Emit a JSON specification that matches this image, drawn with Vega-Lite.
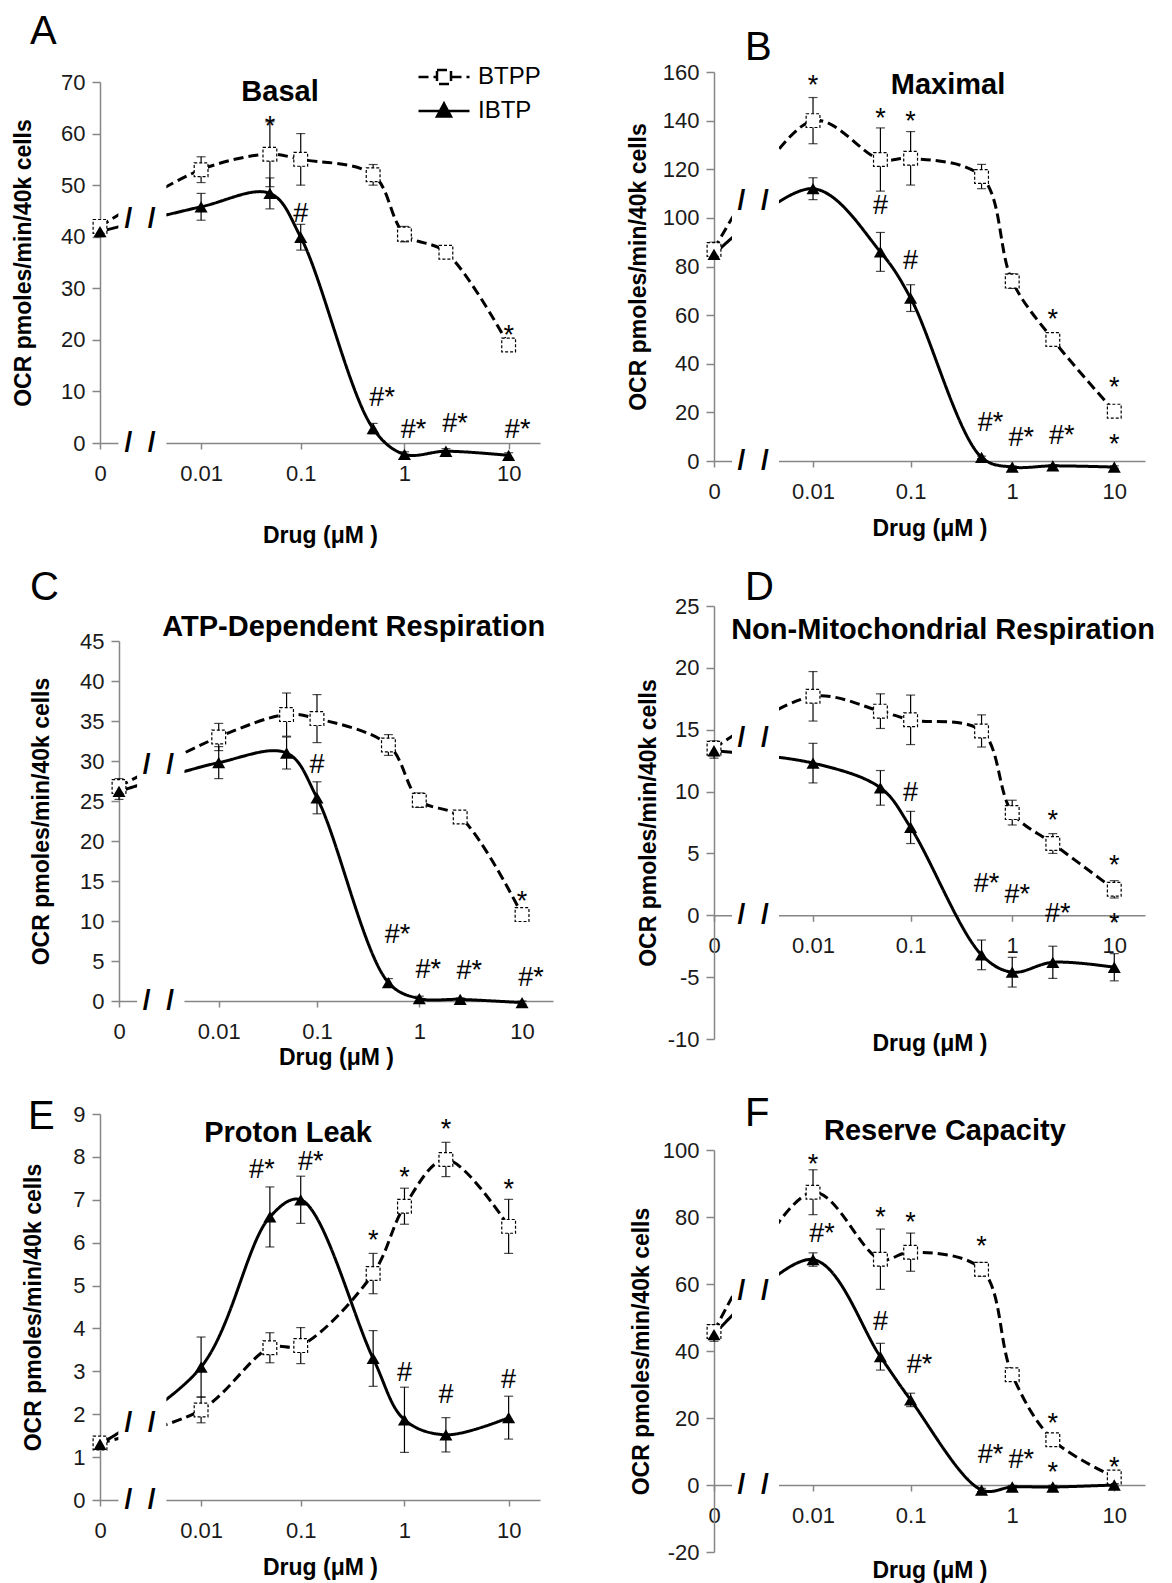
{
"$schema": "https://vega.github.io/schema/vega-lite/v6.json",
"background": "white",
"padding": {"left": 12, "top": 12, "right": 5, "bottom": 5},
"config": {
  "font": "Liberation Sans",
  "view": {"stroke": null},
  "axis": {"domainColor": "#868686", "tickColor": "#868686", "domainWidth": 1.5, "tickWidth": 1.5, "labelFontSize": 22, "labelColor": "#1a1a1a", "labelFont": "Liberation Sans", "titleFont": "Liberation Sans", "titleFontSize": 23, "titleFontWeight": "bold", "titleColor": "#000", "grid": false, "labelOverlap": false, "tickCount": 30},
  "axisX": {"tickSize": 6, "labelPadding": 14, "labelFlush": false},
  "axisY": {"tickSize": 8, "labelPadding": 7, "labelExpr": "'' + datum.value"},
  "title": {"font": "Liberation Sans", "fontSize": 40, "fontWeight": "normal", "anchor": "start", "frame": "group", "color": "#000", "baseline": "bottom"},
  "text": {"font": "Liberation Sans", "color": "black"}
},
"datasets": {
  "pts": [
    {"panel":"A","series":"BTPP","drug":0,"ocr":42,"sem":1},
    {"panel":"A","series":"BTPP","drug":0.01,"ocr":53,"sem":2.5},
    {"panel":"A","series":"BTPP","drug":0.05,"ocr":56,"sem":6.3},
    {"panel":"A","series":"BTPP","drug":0.1,"ocr":55,"sem":5},
    {"panel":"A","series":"BTPP","drug":0.5,"ocr":52,"sem":2},
    {"panel":"A","series":"BTPP","drug":1,"ocr":40.5,"sem":1.5},
    {"panel":"A","series":"BTPP","drug":2.5,"ocr":37,"sem":0.5},
    {"panel":"A","series":"BTPP","drug":10,"ocr":19,"sem":0.5},
    {"panel":"A","series":"IBTP","drug":0,"ocr":41,"sem":1},
    {"panel":"A","series":"IBTP","drug":0.01,"ocr":45.8,"sem":2.6},
    {"panel":"A","series":"IBTP","drug":0.05,"ocr":48.4,"sem":3},
    {"panel":"A","series":"IBTP","drug":0.1,"ocr":39.9,"sem":2.5},
    {"panel":"A","series":"IBTP","drug":0.5,"ocr":2.8,"sem":1},
    {"panel":"A","series":"IBTP","drug":1,"ocr":-2.2,"sem":0.5},
    {"panel":"A","series":"IBTP","drug":2.5,"ocr":-1.6,"sem":0.5},
    {"panel":"A","series":"IBTP","drug":10,"ocr":-2.4,"sem":0.5},
    {"panel":"B","series":"BTPP","drug":0,"ocr":87,"sem":3},
    {"panel":"B","series":"BTPP","drug":0.01,"ocr":140,"sem":9.5},
    {"panel":"B","series":"BTPP","drug":0.05,"ocr":124,"sem":13},
    {"panel":"B","series":"BTPP","drug":0.1,"ocr":124.5,"sem":11},
    {"panel":"B","series":"BTPP","drug":0.5,"ocr":117,"sem":5},
    {"panel":"B","series":"BTPP","drug":1,"ocr":74,"sem":3},
    {"panel":"B","series":"BTPP","drug":2.5,"ocr":50,"sem":0.5},
    {"panel":"B","series":"BTPP","drug":10,"ocr":20.5,"sem":0.5},
    {"panel":"B","series":"IBTP","drug":0,"ocr":85,"sem":2},
    {"panel":"B","series":"IBTP","drug":0.01,"ocr":112,"sem":4.5},
    {"panel":"B","series":"IBTP","drug":0.05,"ocr":86,"sem":8},
    {"panel":"B","series":"IBTP","drug":0.1,"ocr":67,"sem":5.5},
    {"panel":"B","series":"IBTP","drug":0.5,"ocr":1.5,"sem":0.5},
    {"panel":"B","series":"IBTP","drug":1,"ocr":-2.5,"sem":0.5},
    {"panel":"B","series":"IBTP","drug":2.5,"ocr":-2,"sem":0.5},
    {"panel":"B","series":"IBTP","drug":10,"ocr":-2.5,"sem":0.5},
    {"panel":"C","series":"BTPP","drug":0,"ocr":26.8,"sem":1},
    {"panel":"C","series":"BTPP","drug":0.01,"ocr":33,"sem":1.7},
    {"panel":"C","series":"BTPP","drug":0.05,"ocr":35.8,"sem":2.7},
    {"panel":"C","series":"BTPP","drug":0.1,"ocr":35.3,"sem":3},
    {"panel":"C","series":"BTPP","drug":0.5,"ocr":32,"sem":1.3},
    {"panel":"C","series":"BTPP","drug":1,"ocr":25.1,"sem":0.9},
    {"panel":"C","series":"BTPP","drug":2.5,"ocr":23,"sem":0.3},
    {"panel":"C","series":"BTPP","drug":10,"ocr":10.8,"sem":0.3},
    {"panel":"C","series":"IBTP","drug":0,"ocr":26.2,"sem":1},
    {"panel":"C","series":"IBTP","drug":0.01,"ocr":29.8,"sem":2},
    {"panel":"C","series":"IBTP","drug":0.05,"ocr":31,"sem":2},
    {"panel":"C","series":"IBTP","drug":0.1,"ocr":25.4,"sem":2},
    {"panel":"C","series":"IBTP","drug":0.5,"ocr":2.3,"sem":0.5},
    {"panel":"C","series":"IBTP","drug":1,"ocr":0.3,"sem":0.3},
    {"panel":"C","series":"IBTP","drug":2.5,"ocr":0.2,"sem":0.2},
    {"panel":"C","series":"IBTP","drug":10,"ocr":-0.2,"sem":0.2},
    {"panel":"D","series":"BTPP","drug":0,"ocr":13.5,"sem":0.6},
    {"panel":"D","series":"BTPP","drug":0.01,"ocr":17.7,"sem":2},
    {"panel":"D","series":"BTPP","drug":0.05,"ocr":16.5,"sem":1.4},
    {"panel":"D","series":"BTPP","drug":0.1,"ocr":15.8,"sem":2},
    {"panel":"D","series":"BTPP","drug":0.5,"ocr":14.9,"sem":1.3},
    {"panel":"D","series":"BTPP","drug":1,"ocr":8.3,"sem":1},
    {"panel":"D","series":"BTPP","drug":2.5,"ocr":5.8,"sem":0.8},
    {"panel":"D","series":"BTPP","drug":10,"ocr":2.1,"sem":0.7},
    {"panel":"D","series":"IBTP","drug":0,"ocr":13.3,"sem":0.6},
    {"panel":"D","series":"IBTP","drug":0.01,"ocr":12.3,"sem":1.6},
    {"panel":"D","series":"IBTP","drug":0.05,"ocr":10.3,"sem":1.4},
    {"panel":"D","series":"IBTP","drug":0.1,"ocr":7.1,"sem":1.3},
    {"panel":"D","series":"IBTP","drug":0.5,"ocr":-3.2,"sem":1.2},
    {"panel":"D","series":"IBTP","drug":1,"ocr":-4.6,"sem":1.2},
    {"panel":"D","series":"IBTP","drug":2.5,"ocr":-3.8,"sem":1.3},
    {"panel":"D","series":"IBTP","drug":10,"ocr":-4.2,"sem":1.1},
    {"panel":"E","series":"BTPP","drug":0,"ocr":1.33,"sem":0.1},
    {"panel":"E","series":"BTPP","drug":0.01,"ocr":2.1,"sem":0.3},
    {"panel":"E","series":"BTPP","drug":0.05,"ocr":3.55,"sem":0.35},
    {"panel":"E","series":"BTPP","drug":0.1,"ocr":3.6,"sem":0.42},
    {"panel":"E","series":"BTPP","drug":0.5,"ocr":5.28,"sem":0.47},
    {"panel":"E","series":"BTPP","drug":1,"ocr":6.85,"sem":0.42},
    {"panel":"E","series":"BTPP","drug":2.5,"ocr":7.94,"sem":0.4},
    {"panel":"E","series":"BTPP","drug":10,"ocr":6.38,"sem":0.63},
    {"panel":"E","series":"IBTP","drug":0,"ocr":1.3,"sem":0.1},
    {"panel":"E","series":"IBTP","drug":0.01,"ocr":3.1,"sem":0.7},
    {"panel":"E","series":"IBTP","drug":0.05,"ocr":6.6,"sem":0.7},
    {"panel":"E","series":"IBTP","drug":0.1,"ocr":7.0,"sem":0.55},
    {"panel":"E","series":"IBTP","drug":0.5,"ocr":3.3,"sem":0.65},
    {"panel":"E","series":"IBTP","drug":1,"ocr":1.87,"sem":0.76},
    {"panel":"E","series":"IBTP","drug":2.5,"ocr":1.52,"sem":0.4},
    {"panel":"E","series":"IBTP","drug":10,"ocr":1.92,"sem":0.5},
    {"panel":"F","series":"BTPP","drug":0,"ocr":45.8,"sem":2},
    {"panel":"F","series":"BTPP","drug":0.01,"ocr":87.4,"sem":6.7},
    {"panel":"F","series":"BTPP","drug":0.05,"ocr":67.4,"sem":9},
    {"panel":"F","series":"BTPP","drug":0.1,"ocr":69.5,"sem":5.7},
    {"panel":"F","series":"BTPP","drug":0.5,"ocr":64.4,"sem":2},
    {"panel":"F","series":"BTPP","drug":1,"ocr":32.9,"sem":0.5},
    {"panel":"F","series":"BTPP","drug":2.5,"ocr":13.5,"sem":0.5},
    {"panel":"F","series":"BTPP","drug":10,"ocr":2.4,"sem":0.5},
    {"panel":"F","series":"IBTP","drug":0,"ocr":44.9,"sem":2},
    {"panel":"F","series":"IBTP","drug":0.01,"ocr":67.3,"sem":2},
    {"panel":"F","series":"IBTP","drug":0.05,"ocr":38.3,"sem":4},
    {"panel":"F","series":"IBTP","drug":0.1,"ocr":25.4,"sem":2},
    {"panel":"F","series":"IBTP","drug":0.5,"ocr":-1.5,"sem":0.5},
    {"panel":"F","series":"IBTP","drug":1,"ocr":-0.6,"sem":0.5},
    {"panel":"F","series":"IBTP","drug":2.5,"ocr":-0.6,"sem":0.5},
    {"panel":"F","series":"IBTP","drug":10,"ocr":0,"sem":0.5}
  ],
  "ann": [
    {"panel":"A","drug":0.05,"y":62.5,"label":"*"},
    {"panel":"A","drug":0.1,"y":44.4,"label":"#"},
    {"panel":"A","drug":0.5,"y":8.7,"label":"#*"},
    {"panel":"A","drug":1,"y":2.6,"label":"#*"},
    {"panel":"A","drug":2.5,"y":3.6,"label":"#*"},
    {"panel":"A","drug":10,"y":2.6,"label":"#*"},
    {"panel":"A","drug":10,"y":22,"label":"*"},
    {"panel":"B","drug":0.01,"y":156.6,"label":"*"},
    {"panel":"B","drug":0.05,"y":143,"label":"*"},
    {"panel":"B","drug":0.05,"y":104.8,"label":"#"},
    {"panel":"B","drug":0.1,"y":141.8,"label":"*"},
    {"panel":"B","drug":0.1,"y":82.3,"label":"#"},
    {"panel":"B","drug":0.5,"y":15.7,"label":"#*"},
    {"panel":"B","drug":1,"y":9.3,"label":"#*"},
    {"panel":"B","drug":2.5,"y":60.3,"label":"*"},
    {"panel":"B","drug":2.5,"y":10.2,"label":"#*"},
    {"panel":"B","drug":10,"y":32.3,"label":"*"},
    {"panel":"B","drug":10,"y":8.9,"label":"*"},
    {"panel":"C","drug":0.1,"y":29.5,"label":"#"},
    {"panel":"C","drug":0.5,"y":8.25,"label":"#*"},
    {"panel":"C","drug":1,"y":3.9,"label":"#*"},
    {"panel":"C","drug":2.5,"y":3.75,"label":"#*"},
    {"panel":"C","drug":10,"y":2.9,"label":"#*"},
    {"panel":"C","drug":10,"y":13.1,"label":"*"},
    {"panel":"D","drug":0.1,"y":9.9,"label":"#"},
    {"panel":"D","drug":0.5,"y":2.5,"label":"#*"},
    {"panel":"D","drug":1,"y":1.6,"label":"#*"},
    {"panel":"D","drug":2.5,"y":8.1,"label":"*"},
    {"panel":"D","drug":2.5,"y":0.1,"label":"#*"},
    {"panel":"D","drug":10,"y":4.5,"label":"*"},
    {"panel":"D","drug":10,"y":-0.2,"label":"*"},
    {"panel":"E","drug":0.05,"y":7.69,"label":"#*"},
    {"panel":"E","drug":0.1,"y":7.87,"label":"#*"},
    {"panel":"E","drug":0.5,"y":6.19,"label":"*"},
    {"panel":"E","drug":1,"y":7.64,"label":"*"},
    {"panel":"E","drug":1,"y":2.97,"label":"#"},
    {"panel":"E","drug":2.5,"y":8.76,"label":"*"},
    {"panel":"E","drug":2.5,"y":2.45,"label":"#"},
    {"panel":"E","drug":10,"y":7.36,"label":"*"},
    {"panel":"E","drug":10,"y":2.8,"label":"#"},
    {"panel":"F","drug":0.01,"y":97.3,"label":"*"},
    {"panel":"F","drug":0.01,"y":74.9,"label":"#*"},
    {"panel":"F","drug":0.05,"y":81.4,"label":"*"},
    {"panel":"F","drug":0.05,"y":48.8,"label":"#"},
    {"panel":"F","drug":0.1,"y":79.9,"label":"*"},
    {"panel":"F","drug":0.1,"y":35.9,"label":"#*"},
    {"panel":"F","drug":0.5,"y":72.8,"label":"*"},
    {"panel":"F","drug":0.5,"y":9,"label":"#*"},
    {"panel":"F","drug":1,"y":7.5,"label":"#*"},
    {"panel":"F","drug":2.5,"y":20,"label":"*"},
    {"panel":"F","drug":2.5,"y":5.4,"label":"*"},
    {"panel":"F","drug":10,"y":6.9,"label":"*"}
  ],
  "brk": [
    {"panel":"A","y":43.5},{"panel":"A","y":0},
    {"panel":"B","y":107},{"panel":"B","y":0},
    {"panel":"C","y":29.5},{"panel":"C","y":0},
    {"panel":"D","y":14.3},{"panel":"D","y":0},
    {"panel":"E","y":1.8},{"panel":"E","y":0},
    {"panel":"F","y":58},{"panel":"F","y":0}
  ]
},
"hconcat": [
 {"vconcat": [
  {"width": 1, "height": 1, "data": {"values": [{"s": 0}]}, "mark": {"type": "point", "opacity": 0}, "encoding": {}},
  {"vconcat": [
   {"width": 440, "height": 361,
    "title": {"text": "A", "dx": -70, "offset": 19},
    "layer": [
     {"data": {"name": "pts"}, "transform": [{"filter": "datum.panel === 'A'"}],
      "mark": {"type": "line", "interpolate": "catmull-rom", "color": "black", "strokeWidth": 3},
      "encoding": {
       "x": {"field": "drug", "type": "quantitative", "scale": {"type": "symlog", "constant": 0.0012, "domain": [0, 20], "nice": false}, "axis": {"values": [0, 0.01, 0.1, 1, 10], "format": "~g", "title": "Drug (μM )", "titlePadding": 40}},
       "y": {"field": "ocr", "type": "quantitative", "scale": {"domain": [0, 70], "nice": false, "zero": false}, "axis": {"values": [0, 10, 20, 30, 40, 50, 60, 70], "title": "OCR pmoles/min/40k cells", "titlePadding": 25}},
       "strokeDash": {"field": "series", "type": "nominal", "scale": {"domain": ["BTPP", "IBTP"], "range": [[10, 5], [1, 0]]},
         "legend": {"title": null, "orient": "none", "legendX": 332, "legendY": -7, "labelFontSize": 24, "labelColor": "black", "labelFont": "Liberation Sans", "symbolSize": 400, "symbolStrokeWidth": 2.5, "symbolStrokeColor": "black", "rowPadding": 9, "labelOffset": 22, "padding": 0,
           "encode": {"symbols": {"update": {"shape": {"signal": "datum.value === 'BTPP' ? 'M-2.55,0H-0.75M0.75,0H2.55M-0.7,-0.7H0.7V0.7H-0.7Z' : 'M-2.55,0H2.55M-0.7,0.55L0,-0.75L0.7,0.55Z'"}, "fill": {"signal": "datum.value === 'BTPP' ? 'white' : 'black'"}, "stroke": {"value": "black"}, "strokeWidth": {"value": 2.5}, "opacity": {"value": 1}}}}}}
      }},
     {"data": {"values": [{}]}, "mark": {"type": "rect", "color": "white"},
      "encoding": {"x": {"datum": 0.0006}, "x2": {"datum": 0.004}, "y": {"datum": -0.4}, "y2": {"datum": 70}}},
     {"data": {"name": "brk"}, "transform": [{"filter": "datum.panel === 'A'"}],
      "mark": {"type": "text", "text": "/\u00a0\u00a0/", "fontSize": 28, "fontWeight": "bold", "baseline": "middle"},
      "encoding": {"x": {"datum": 0.0017}, "y": {"field": "y", "type": "quantitative"}}},
     {"data": {"name": "pts"}, "transform": [{"filter": "datum.panel === 'A'"}],
      "mark": {"type": "errorbar", "ticks": {"size": 9}, "thickness": 1.2, "color": "black"},
      "encoding": {"x": {"field": "drug", "type": "quantitative", "title": "Drug (μM )"}, "y": {"field": "ocr", "type": "quantitative", "title": "OCR pmoles/min/40k cells"}, "yError": {"field": "sem"}}},
     {"data": {"name": "pts"}, "transform": [{"filter": "datum.panel === 'A' && datum.series === 'BTPP'"}],
      "mark": {"type": "point", "shape": "square", "filled": true, "fill": "white", "stroke": "black", "strokeWidth": 1.2, "strokeDash": [3, 2], "size": 190, "opacity": 1},
      "encoding": {"x": {"field": "drug", "type": "quantitative"}, "y": {"field": "ocr", "type": "quantitative"}}},
     {"data": {"name": "pts"}, "transform": [{"filter": "datum.panel === 'A' && datum.series === 'IBTP'"}],
      "mark": {"type": "point", "shape": "triangle-up", "filled": true, "color": "black", "size": 170, "opacity": 1},
      "encoding": {"x": {"field": "drug", "type": "quantitative"}, "y": {"field": "ocr", "type": "quantitative"}}},
     {"data": {"name": "ann"}, "transform": [{"filter": "datum.panel === 'A' && datum.label === '*'"}],
      "mark": {"type": "text", "fontSize": 27, "baseline": "middle", "dy": 6},
      "encoding": {"x": {"field": "drug", "type": "quantitative"}, "y": {"field": "y", "type": "quantitative"}, "text": {"field": "label"}}},
     {"data": {"name": "ann"}, "transform": [{"filter": "datum.panel === 'A' && datum.label === '#'"}],
      "mark": {"type": "text", "fontSize": 27, "baseline": "middle"},
      "encoding": {"x": {"field": "drug", "type": "quantitative"}, "y": {"field": "y", "type": "quantitative"}, "text": {"field": "label"}}},
     {"data": {"name": "ann"}, "transform": [{"filter": "datum.panel === 'A' && datum.label === '#*'"}],
      "mark": {"type": "text", "fontSize": 27, "baseline": "middle", "dx": 9},
      "encoding": {"x": {"field": "drug", "type": "quantitative"}, "y": {"field": "y", "type": "quantitative"}, "text": {"field": "label"}}},
     {"data": {"values": [{}]}, "mark": {"type": "text", "text": "Basal", "fontSize": 29, "fontWeight": "bold", "baseline": "middle"},
      "encoding": {"x": {"datum": 0.0629}, "y": {"datum": 68.1}}}
    ]},
   {"vconcat": [
    {"hconcat": [
     {"width": 1, "height": 1, "data": {"values": [{"s": 0}]}, "mark": {"type": "point", "opacity": 0}, "encoding": {}},
     {"width": 434, "height": 360,
      "title": {"text": "C", "dx": -89, "offset": 5},
      "layer": [
       {"data": {"name": "pts"}, "transform": [{"filter": "datum.panel === 'C'"}],
        "mark": {"type": "line", "interpolate": "catmull-rom", "color": "black", "strokeWidth": 3},
        "encoding": {
         "x": {"field": "drug", "type": "quantitative", "scale": {"type": "symlog", "constant": 0.0012, "domain": [0, 20], "nice": false}, "axis": {"values": [0, 0.01, 0.1, 1, 10], "format": "~g", "title": "Drug (μM )", "titlePadding": 4}},
         "y": {"field": "ocr", "type": "quantitative", "scale": {"domain": [0, 45], "nice": false, "zero": false}, "axis": {"values": [0, 5, 10, 15, 20, 25, 30, 35, 40, 45], "title": "OCR pmoles/min/40k cells", "titlePadding": 26}},
         "strokeDash": {"field": "series", "type": "nominal", "scale": {"domain": ["BTPP", "IBTP"], "range": [[10, 5], [1, 0]]},
           "legend": {"title": null, "orient": "none", "legendX": 332, "legendY": -7, "labelFontSize": 24, "labelColor": "black", "labelFont": "Liberation Sans", "symbolSize": 400, "symbolStrokeWidth": 2.5, "symbolStrokeColor": "black", "rowPadding": 9, "labelOffset": 22, "padding": 0,
             "encode": {"symbols": {"update": {"shape": {"signal": "datum.value === 'BTPP' ? 'M-2.55,0H-0.75M0.75,0H2.55M-0.7,-0.7H0.7V0.7H-0.7Z' : 'M-2.55,0H2.55M-0.7,0.55L0,-0.75L0.7,0.55Z'"}, "fill": {"signal": "datum.value === 'BTPP' ? 'white' : 'black'"}, "stroke": {"value": "black"}, "strokeWidth": {"value": 2.5}, "opacity": {"value": 1}}}}}}
        }},
       {"data": {"values": [{}]}, "mark": {"type": "rect", "color": "white"},
        "encoding": {"x": {"datum": 0.0006}, "x2": {"datum": 0.004}, "y": {"datum": -0.3}, "y2": {"datum": 45}}},
       {"data": {"name": "brk"}, "transform": [{"filter": "datum.panel === 'C'"}],
        "mark": {"type": "text", "text": "/\u00a0\u00a0/", "fontSize": 28, "fontWeight": "bold", "baseline": "middle"},
        "encoding": {"x": {"datum": 0.0017}, "y": {"field": "y", "type": "quantitative"}}},
       {"data": {"name": "pts"}, "transform": [{"filter": "datum.panel === 'C'"}],
        "mark": {"type": "errorbar", "ticks": {"size": 9}, "thickness": 1.2, "color": "black"},
        "encoding": {"x": {"field": "drug", "type": "quantitative", "title": "Drug (μM )"}, "y": {"field": "ocr", "type": "quantitative", "title": "OCR pmoles/min/40k cells"}, "yError": {"field": "sem"}}},
       {"data": {"name": "pts"}, "transform": [{"filter": "datum.panel === 'C' && datum.series === 'BTPP'"}],
        "mark": {"type": "point", "shape": "square", "filled": true, "fill": "white", "stroke": "black", "strokeWidth": 1.2, "strokeDash": [3, 2], "size": 190, "opacity": 1},
        "encoding": {"x": {"field": "drug", "type": "quantitative"}, "y": {"field": "ocr", "type": "quantitative"}}},
       {"data": {"name": "pts"}, "transform": [{"filter": "datum.panel === 'C' && datum.series === 'IBTP'"}],
        "mark": {"type": "point", "shape": "triangle-up", "filled": true, "color": "black", "size": 170, "opacity": 1},
        "encoding": {"x": {"field": "drug", "type": "quantitative"}, "y": {"field": "ocr", "type": "quantitative"}}},
       {"data": {"name": "ann"}, "transform": [{"filter": "datum.panel === 'C' && datum.label === '*'"}],
        "mark": {"type": "text", "fontSize": 27, "baseline": "middle", "dy": 6},
        "encoding": {"x": {"field": "drug", "type": "quantitative"}, "y": {"field": "y", "type": "quantitative"}, "text": {"field": "label"}}},
       {"data": {"name": "ann"}, "transform": [{"filter": "datum.panel === 'C' && datum.label === '#'"}],
        "mark": {"type": "text", "fontSize": 27, "baseline": "middle"},
        "encoding": {"x": {"field": "drug", "type": "quantitative"}, "y": {"field": "y", "type": "quantitative"}, "text": {"field": "label"}}},
       {"data": {"name": "ann"}, "transform": [{"filter": "datum.panel === 'C' && datum.label === '#*'"}],
        "mark": {"type": "text", "fontSize": 27, "baseline": "middle", "dx": 9},
        "encoding": {"x": {"field": "drug", "type": "quantitative"}, "y": {"field": "y", "type": "quantitative"}, "text": {"field": "label"}}},
       {"data": {"values": [{}]}, "mark": {"type": "text", "text": "ATP-Dependent Respiration", "fontSize": 29, "fontWeight": "bold", "baseline": "middle"},
        "encoding": {"x": {"datum": 0.229}, "y": {"datum": 46.75}}}
      ]}
    ], "spacing": 18, "bounds": "flush"},
    {"width": 440, "height": 386,
     "title": {"text": "E", "dx": -72, "offset": -34},
     "layer": [
      {"data": {"name": "pts"}, "transform": [{"filter": "datum.panel === 'E'"}],
       "mark": {"type": "line", "interpolate": "catmull-rom", "color": "black", "strokeWidth": 3},
       "encoding": {
        "x": {"field": "drug", "type": "quantitative", "scale": {"type": "symlog", "constant": 0.0012, "domain": [0, 20], "nice": false}, "axis": {"values": [0, 0.01, 0.1, 1, 10], "format": "~g", "title": "Drug (μM )", "titlePadding": 15}},
        "y": {"field": "ocr", "type": "quantitative", "scale": {"domain": [0, 9], "nice": false, "zero": false}, "axis": {"values": [0, 1, 2, 3, 4, 5, 6, 7, 8, 9], "title": "OCR pmoles/min/40k cells", "titlePadding": 27}},
        "strokeDash": {"field": "series", "type": "nominal", "scale": {"domain": ["BTPP", "IBTP"], "range": [[10, 5], [1, 0]]},
          "legend": {"title": null, "orient": "none", "legendX": 332, "legendY": -7, "labelFontSize": 24, "labelColor": "black", "labelFont": "Liberation Sans", "symbolSize": 400, "symbolStrokeWidth": 2.5, "symbolStrokeColor": "black", "rowPadding": 9, "labelOffset": 22, "padding": 0,
            "encode": {"symbols": {"update": {"shape": {"signal": "datum.value === 'BTPP' ? 'M-2.55,0H-0.75M0.75,0H2.55M-0.7,-0.7H0.7V0.7H-0.7Z' : 'M-2.55,0H2.55M-0.7,0.55L0,-0.75L0.7,0.55Z'"}, "fill": {"signal": "datum.value === 'BTPP' ? 'white' : 'black'"}, "stroke": {"value": "black"}, "strokeWidth": {"value": 2.5}, "opacity": {"value": 1}}}}}}
       }},
      {"data": {"values": [{}]}, "mark": {"type": "rect", "color": "white"},
       "encoding": {"x": {"datum": 0.0006}, "x2": {"datum": 0.004}, "y": {"datum": -0.05}, "y2": {"datum": 9}}},
      {"data": {"name": "brk"}, "transform": [{"filter": "datum.panel === 'E'"}],
       "mark": {"type": "text", "text": "/\u00a0\u00a0/", "fontSize": 28, "fontWeight": "bold", "baseline": "middle"},
       "encoding": {"x": {"datum": 0.0017}, "y": {"field": "y", "type": "quantitative"}}},
      {"data": {"name": "pts"}, "transform": [{"filter": "datum.panel === 'E'"}],
       "mark": {"type": "errorbar", "ticks": {"size": 9}, "thickness": 1.2, "color": "black"},
       "encoding": {"x": {"field": "drug", "type": "quantitative", "title": "Drug (μM )"}, "y": {"field": "ocr", "type": "quantitative", "title": "OCR pmoles/min/40k cells"}, "yError": {"field": "sem"}}},
      {"data": {"name": "pts"}, "transform": [{"filter": "datum.panel === 'E' && datum.series === 'BTPP'"}],
       "mark": {"type": "point", "shape": "square", "filled": true, "fill": "white", "stroke": "black", "strokeWidth": 1.2, "strokeDash": [3, 2], "size": 190, "opacity": 1},
       "encoding": {"x": {"field": "drug", "type": "quantitative"}, "y": {"field": "ocr", "type": "quantitative"}}},
      {"data": {"name": "pts"}, "transform": [{"filter": "datum.panel === 'E' && datum.series === 'IBTP'"}],
       "mark": {"type": "point", "shape": "triangle-up", "filled": true, "color": "black", "size": 170, "opacity": 1},
       "encoding": {"x": {"field": "drug", "type": "quantitative"}, "y": {"field": "ocr", "type": "quantitative"}}},
      {"data": {"name": "ann"}, "transform": [{"filter": "datum.panel === 'E' && datum.label === '*'"}],
       "mark": {"type": "text", "fontSize": 27, "baseline": "middle", "dy": 6},
       "encoding": {"x": {"field": "drug", "type": "quantitative"}, "y": {"field": "y", "type": "quantitative"}, "text": {"field": "label"}}},
      {"data": {"name": "ann"}, "transform": [{"filter": "datum.panel === 'E' && datum.label === '#'"}],
       "mark": {"type": "text", "fontSize": 27, "baseline": "middle"},
       "encoding": {"x": {"field": "drug", "type": "quantitative"}, "y": {"field": "y", "type": "quantitative"}, "text": {"field": "label"}}},
      {"data": {"name": "ann"}, "transform": [{"filter": "datum.panel === 'E' && datum.label === '#*' && datum.drug < 0.07"}],
       "mark": {"type": "text", "fontSize": 27, "baseline": "middle", "dx": -8},
       "encoding": {"x": {"field": "drug", "type": "quantitative"}, "y": {"field": "y", "type": "quantitative"}, "text": {"field": "label"}}},
      {"data": {"name": "ann"}, "transform": [{"filter": "datum.panel === 'E' && datum.label === '#*' && datum.drug > 0.07"}],
       "mark": {"type": "text", "fontSize": 27, "baseline": "middle", "dx": 10},
       "encoding": {"x": {"field": "drug", "type": "quantitative"}, "y": {"field": "y", "type": "quantitative"}, "text": {"field": "label"}}},
      {"data": {"values": [{}]}, "mark": {"type": "text", "text": "Proton Leak", "fontSize": 29, "fontWeight": "bold", "baseline": "middle"},
       "encoding": {"x": {"datum": 0.0752}, "y": {"datum": 8.55}}}
     ]}
   ], "spacing": 473, "bounds": "flush"}
  ], "spacing": 198, "bounds": "flush"}
 ], "spacing": 9, "bounds": "flush"},
 {"vconcat": [
  {"width": 431, "height": 389,
   "title": {"text": "B", "dx": 31, "offset": -7},
   "layer": [
    {"data": {"name": "pts"}, "transform": [{"filter": "datum.panel === 'B'"}],
     "mark": {"type": "line", "interpolate": "catmull-rom", "color": "black", "strokeWidth": 3},
     "encoding": {
      "x": {"field": "drug", "type": "quantitative", "scale": {"type": "symlog", "constant": 0.0012, "domain": [0, 20], "nice": false}, "axis": {"values": [0, 0.01, 0.1, 1, 10], "format": "~g", "title": "Drug (μM )", "titlePadding": 15}},
      "y": {"field": "ocr", "type": "quantitative", "scale": {"domain": [0, 160], "nice": false, "zero": false}, "axis": {"values": [0, 20, 40, 60, 80, 100, 120, 140, 160], "title": "OCR pmoles/min/40k cells", "titlePadding": 12}},
      "strokeDash": {"field": "series", "type": "nominal", "scale": {"domain": ["BTPP", "IBTP"], "range": [[10, 5], [1, 0]]},
        "legend": {"title": null, "orient": "none", "legendX": 332, "legendY": -7, "labelFontSize": 24, "labelColor": "black", "labelFont": "Liberation Sans", "symbolSize": 400, "symbolStrokeWidth": 2.5, "symbolStrokeColor": "black", "rowPadding": 9, "labelOffset": 22, "padding": 0,
          "encode": {"symbols": {"update": {"shape": {"signal": "datum.value === 'BTPP' ? 'M-2.55,0H-0.75M0.75,0H2.55M-0.7,-0.7H0.7V0.7H-0.7Z' : 'M-2.55,0H2.55M-0.7,0.55L0,-0.75L0.7,0.55Z'"}, "fill": {"signal": "datum.value === 'BTPP' ? 'white' : 'black'"}, "stroke": {"value": "black"}, "strokeWidth": {"value": 2.5}, "opacity": {"value": 1}}}}}}
     }},
    {"data": {"values": [{}]}, "mark": {"type": "rect", "color": "white"},
     "encoding": {"x": {"datum": 0.0006}, "x2": {"datum": 0.004}, "y": {"datum": -1}, "y2": {"datum": 160}}},
    {"data": {"name": "brk"}, "transform": [{"filter": "datum.panel === 'B'"}],
     "mark": {"type": "text", "text": "/\u00a0\u00a0/", "fontSize": 28, "fontWeight": "bold", "baseline": "middle"},
     "encoding": {"x": {"datum": 0.0017}, "y": {"field": "y", "type": "quantitative"}}},
    {"data": {"name": "pts"}, "transform": [{"filter": "datum.panel === 'B'"}],
     "mark": {"type": "errorbar", "ticks": {"size": 9}, "thickness": 1.2, "color": "black"},
     "encoding": {"x": {"field": "drug", "type": "quantitative", "title": "Drug (μM )"}, "y": {"field": "ocr", "type": "quantitative", "title": "OCR pmoles/min/40k cells"}, "yError": {"field": "sem"}}},
    {"data": {"name": "pts"}, "transform": [{"filter": "datum.panel === 'B' && datum.series === 'BTPP'"}],
     "mark": {"type": "point", "shape": "square", "filled": true, "fill": "white", "stroke": "black", "strokeWidth": 1.2, "strokeDash": [3, 2], "size": 190, "opacity": 1},
     "encoding": {"x": {"field": "drug", "type": "quantitative"}, "y": {"field": "ocr", "type": "quantitative"}}},
    {"data": {"name": "pts"}, "transform": [{"filter": "datum.panel === 'B' && datum.series === 'IBTP'"}],
     "mark": {"type": "point", "shape": "triangle-up", "filled": true, "color": "black", "size": 170, "opacity": 1},
     "encoding": {"x": {"field": "drug", "type": "quantitative"}, "y": {"field": "ocr", "type": "quantitative"}}},
    {"data": {"name": "ann"}, "transform": [{"filter": "datum.panel === 'B' && datum.label === '*'"}],
     "mark": {"type": "text", "fontSize": 27, "baseline": "middle", "dy": 6},
     "encoding": {"x": {"field": "drug", "type": "quantitative"}, "y": {"field": "y", "type": "quantitative"}, "text": {"field": "label"}}},
    {"data": {"name": "ann"}, "transform": [{"filter": "datum.panel === 'B' && datum.label === '#'"}],
     "mark": {"type": "text", "fontSize": 27, "baseline": "middle"},
     "encoding": {"x": {"field": "drug", "type": "quantitative"}, "y": {"field": "y", "type": "quantitative"}, "text": {"field": "label"}}},
    {"data": {"name": "ann"}, "transform": [{"filter": "datum.panel === 'B' && datum.label === '#*'"}],
     "mark": {"type": "text", "fontSize": 27, "baseline": "middle", "dx": 9},
     "encoding": {"x": {"field": "drug", "type": "quantitative"}, "y": {"field": "y", "type": "quantitative"}, "text": {"field": "label"}}},
    {"data": {"values": [{}]}, "mark": {"type": "text", "text": "Maximal", "fontSize": 29, "fontWeight": "bold", "baseline": "middle"},
     "encoding": {"x": {"datum": 0.234}, "y": {"datum": 154.6}}}
   ]},
  {"vconcat": [
   {"width": 431, "height": 433,
    "title": {"text": "D", "dx": 31, "offset": -13},
    "layer": [
     {"data": {"name": "pts"}, "transform": [{"filter": "datum.panel === 'D'"}],
      "mark": {"type": "line", "interpolate": "catmull-rom", "color": "black", "strokeWidth": 3},
      "encoding": {
       "x": {"field": "drug", "type": "quantitative", "scale": {"type": "symlog", "constant": 0.0012, "domain": [0, 20], "nice": false}, "axis": {"values": [0, 0.01, 0.1, 1, 10], "format": "~g", "title": "Drug (μM )", "titlePadding": 76, "offset": -123.7}},
       "y": {"field": "ocr", "type": "quantitative", "scale": {"domain": [-10, 25], "nice": false, "zero": false}, "axis": {"values": [-10, -5, 0, 5, 10, 15, 20, 25], "title": "OCR pmoles/min/40k cells", "titlePadding": 7}},
       "strokeDash": {"field": "series", "type": "nominal", "scale": {"domain": ["BTPP", "IBTP"], "range": [[10, 5], [1, 0]]},
         "legend": {"title": null, "orient": "none", "legendX": 332, "legendY": -7, "labelFontSize": 24, "labelColor": "black", "labelFont": "Liberation Sans", "symbolSize": 400, "symbolStrokeWidth": 2.5, "symbolStrokeColor": "black", "rowPadding": 9, "labelOffset": 22, "padding": 0,
           "encode": {"symbols": {"update": {"shape": {"signal": "datum.value === 'BTPP' ? 'M-2.55,0H-0.75M0.75,0H2.55M-0.7,-0.7H0.7V0.7H-0.7Z' : 'M-2.55,0H2.55M-0.7,0.55L0,-0.75L0.7,0.55Z'"}, "fill": {"signal": "datum.value === 'BTPP' ? 'white' : 'black'"}, "stroke": {"value": "black"}, "strokeWidth": {"value": 2.5}, "opacity": {"value": 1}}}}}}
      }},
     {"data": {"values": [{}]}, "mark": {"type": "rect", "color": "white"},
      "encoding": {"x": {"datum": 0.0006}, "x2": {"datum": 0.004}, "y": {"datum": -10}, "y2": {"datum": 25}}},
     {"data": {"name": "brk"}, "transform": [{"filter": "datum.panel === 'D'"}],
      "mark": {"type": "text", "text": "/\u00a0\u00a0/", "fontSize": 28, "fontWeight": "bold", "baseline": "middle"},
      "encoding": {"x": {"datum": 0.0017}, "y": {"field": "y", "type": "quantitative"}}},
     {"data": {"name": "pts"}, "transform": [{"filter": "datum.panel === 'D'"}],
      "mark": {"type": "errorbar", "ticks": {"size": 9}, "thickness": 1.2, "color": "black"},
      "encoding": {"x": {"field": "drug", "type": "quantitative", "title": "Drug (μM )"}, "y": {"field": "ocr", "type": "quantitative", "title": "OCR pmoles/min/40k cells"}, "yError": {"field": "sem"}}},
     {"data": {"name": "pts"}, "transform": [{"filter": "datum.panel === 'D' && datum.series === 'BTPP'"}],
      "mark": {"type": "point", "shape": "square", "filled": true, "fill": "white", "stroke": "black", "strokeWidth": 1.2, "strokeDash": [3, 2], "size": 190, "opacity": 1},
      "encoding": {"x": {"field": "drug", "type": "quantitative"}, "y": {"field": "ocr", "type": "quantitative"}}},
     {"data": {"name": "pts"}, "transform": [{"filter": "datum.panel === 'D' && datum.series === 'IBTP'"}],
      "mark": {"type": "point", "shape": "triangle-up", "filled": true, "color": "black", "size": 170, "opacity": 1},
      "encoding": {"x": {"field": "drug", "type": "quantitative"}, "y": {"field": "ocr", "type": "quantitative"}}},
     {"data": {"name": "ann"}, "transform": [{"filter": "datum.panel === 'D' && datum.label === '*'"}],
      "mark": {"type": "text", "fontSize": 27, "baseline": "middle", "dy": 6},
      "encoding": {"x": {"field": "drug", "type": "quantitative"}, "y": {"field": "y", "type": "quantitative"}, "text": {"field": "label"}}},
     {"data": {"name": "ann"}, "transform": [{"filter": "datum.panel === 'D' && datum.label === '#'"}],
      "mark": {"type": "text", "fontSize": 27, "baseline": "middle"},
      "encoding": {"x": {"field": "drug", "type": "quantitative"}, "y": {"field": "y", "type": "quantitative"}, "text": {"field": "label"}}},
     {"data": {"name": "ann"}, "transform": [{"filter": "datum.panel === 'D' && datum.label === '#*'"}],
      "mark": {"type": "text", "fontSize": 27, "baseline": "middle", "dx": 5},
      "encoding": {"x": {"field": "drug", "type": "quantitative"}, "y": {"field": "y", "type": "quantitative"}, "text": {"field": "label"}}},
     {"data": {"values": [{}]}, "mark": {"type": "text", "text": "Non-Mitochondrial Respiration", "fontSize": 29, "fontWeight": "bold", "baseline": "middle"},
      "encoding": {"x": {"datum": 0.209}, "y": {"datum": 23.1}}}
    ]},
   {"width": 431, "height": 402,
    "title": {"text": "F", "dx": 31, "offset": -17},
    "layer": [
     {"data": {"name": "pts"}, "transform": [{"filter": "datum.panel === 'F'"}],
      "mark": {"type": "line", "interpolate": "catmull-rom", "color": "black", "strokeWidth": 3},
      "encoding": {
       "x": {"field": "drug", "type": "quantitative", "scale": {"type": "symlog", "constant": 0.0012, "domain": [0, 20], "nice": false}, "axis": {"values": [0, 0.01, 0.1, 1, 10], "format": "~g", "title": "Drug (μM )", "titlePadding": 33, "offset": -67}},
       "y": {"field": "ocr", "type": "quantitative", "scale": {"domain": [-20, 100], "nice": false, "zero": false}, "axis": {"values": [-20, 0, 20, 40, 60, 80, 100], "title": "OCR pmoles/min/40k cells", "titlePadding": 9}},
       "strokeDash": {"field": "series", "type": "nominal", "scale": {"domain": ["BTPP", "IBTP"], "range": [[10, 5], [1, 0]]},
         "legend": {"title": null, "orient": "none", "legendX": 332, "legendY": -7, "labelFontSize": 24, "labelColor": "black", "labelFont": "Liberation Sans", "symbolSize": 400, "symbolStrokeWidth": 2.5, "symbolStrokeColor": "black", "rowPadding": 9, "labelOffset": 22, "padding": 0,
           "encode": {"symbols": {"update": {"shape": {"signal": "datum.value === 'BTPP' ? 'M-2.55,0H-0.75M0.75,0H2.55M-0.7,-0.7H0.7V0.7H-0.7Z' : 'M-2.55,0H2.55M-0.7,0.55L0,-0.75L0.7,0.55Z'"}, "fill": {"signal": "datum.value === 'BTPP' ? 'white' : 'black'"}, "stroke": {"value": "black"}, "strokeWidth": {"value": 2.5}, "opacity": {"value": 1}}}}}}
      }},
     {"data": {"values": [{}]}, "mark": {"type": "rect", "color": "white"},
      "encoding": {"x": {"datum": 0.0006}, "x2": {"datum": 0.004}, "y": {"datum": -20}, "y2": {"datum": 100}}},
     {"data": {"name": "brk"}, "transform": [{"filter": "datum.panel === 'F'"}],
      "mark": {"type": "text", "text": "/\u00a0\u00a0/", "fontSize": 28, "fontWeight": "bold", "baseline": "middle"},
      "encoding": {"x": {"datum": 0.0017}, "y": {"field": "y", "type": "quantitative"}}},
     {"data": {"name": "pts"}, "transform": [{"filter": "datum.panel === 'F'"}],
      "mark": {"type": "errorbar", "ticks": {"size": 9}, "thickness": 1.2, "color": "black"},
      "encoding": {"x": {"field": "drug", "type": "quantitative", "title": "Drug (μM )"}, "y": {"field": "ocr", "type": "quantitative", "title": "OCR pmoles/min/40k cells"}, "yError": {"field": "sem"}}},
     {"data": {"name": "pts"}, "transform": [{"filter": "datum.panel === 'F' && datum.series === 'BTPP'"}],
      "mark": {"type": "point", "shape": "square", "filled": true, "fill": "white", "stroke": "black", "strokeWidth": 1.2, "strokeDash": [3, 2], "size": 190, "opacity": 1},
      "encoding": {"x": {"field": "drug", "type": "quantitative"}, "y": {"field": "ocr", "type": "quantitative"}}},
     {"data": {"name": "pts"}, "transform": [{"filter": "datum.panel === 'F' && datum.series === 'IBTP'"}],
      "mark": {"type": "point", "shape": "triangle-up", "filled": true, "color": "black", "size": 170, "opacity": 1},
      "encoding": {"x": {"field": "drug", "type": "quantitative"}, "y": {"field": "ocr", "type": "quantitative"}}},
     {"data": {"name": "ann"}, "transform": [{"filter": "datum.panel === 'F' && datum.label === '*'"}],
      "mark": {"type": "text", "fontSize": 27, "baseline": "middle", "dy": 6},
      "encoding": {"x": {"field": "drug", "type": "quantitative"}, "y": {"field": "y", "type": "quantitative"}, "text": {"field": "label"}}},
     {"data": {"name": "ann"}, "transform": [{"filter": "datum.panel === 'F' && datum.label === '#'"}],
      "mark": {"type": "text", "fontSize": 27, "baseline": "middle"},
      "encoding": {"x": {"field": "drug", "type": "quantitative"}, "y": {"field": "y", "type": "quantitative"}, "text": {"field": "label"}}},
     {"data": {"name": "ann"}, "transform": [{"filter": "datum.panel === 'F' && datum.label === '#*'"}],
      "mark": {"type": "text", "fontSize": 27, "baseline": "middle", "dx": 9},
      "encoding": {"x": {"field": "drug", "type": "quantitative"}, "y": {"field": "y", "type": "quantitative"}, "text": {"field": "label"}}},
     {"data": {"values": [{}]}, "mark": {"type": "text", "text": "Reserve Capacity", "fontSize": 29, "fontWeight": "bold", "baseline": "middle"},
      "encoding": {"x": {"datum": 0.218}, "y": {"datum": 105.7}}}
    ]}
  ], "spacing": 111, "bounds": "flush"}
 ], "spacing": 145, "bounds": "flush"}
],
"spacing": 614,
"bounds": "flush"
}
